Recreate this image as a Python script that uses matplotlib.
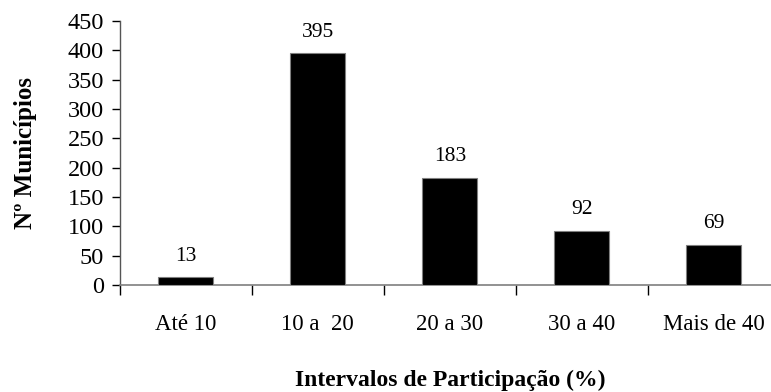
import matplotlib
matplotlib.use("Agg")
import matplotlib.pyplot as plt
import numpy as np

# Distribution of municipalities by participation interval
categorias = ["Até 10", "10 a  20", "20 a 30", "30 a 40", "Mais de 40"]
municipios = [13, 395, 183, 92, 69]
yticks = [0, 50, 100, 150, 200, 250, 300, 350, 400, 450]

plt.rcParams['font.family'] = ['Liberation Serif', 'DejaVu Serif']

fig = plt.figure(figsize=(7.71, 3.92), dpi=100)
ax = fig.add_axes([0.1556, 0.273, 0.8556, 0.673])

x = np.arange(len(categorias))
bars = ax.bar(x, municipios, width=0.417, color='black', edgecolor='#7f7f7f',
              linewidth=0.8, zorder=3)

for xi, v in zip(x, municipios):
    ax.text(xi, v + 20, str(v), ha='center', va='bottom', fontsize=15.5)

ax.set_xlim(-0.5, len(categorias) - 0.5)
ax.set_ylim(0, 450)
ax.set_yticks(yticks)
ax.tick_params(axis='y', labelsize=17.5, length=6, width=1, direction='out', pad=5.5)

# category labels centred, tick marks on the boundaries between them
ax.set_xticks(x)
ax.set_xticklabels(categorias, fontsize=16.5)
ax.tick_params(axis='x', which='major', length=0, pad=21)
ax.set_xticks(np.arange(-0.5, len(categorias)), minor=True)
ax.tick_params(axis='x', which='minor', length=7, width=1, direction='out')

for side in ['top', 'right']:
    ax.spines[side].set_visible(False)
ax.spines['left'].set_color('#555555')
ax.spines['bottom'].set_color('#7f7f7f')
ax.spines['left'].set_linewidth(1)
ax.spines['bottom'].set_linewidth(1.2)

ax.set_ylabel("Nº Municípios", fontsize=18, fontweight='bold', labelpad=22)
ax.set_xlabel("Intervalos de Participação (%)", fontsize=17, fontweight='bold',
              labelpad=25)

fig.savefig("out.png", dpi=100)
